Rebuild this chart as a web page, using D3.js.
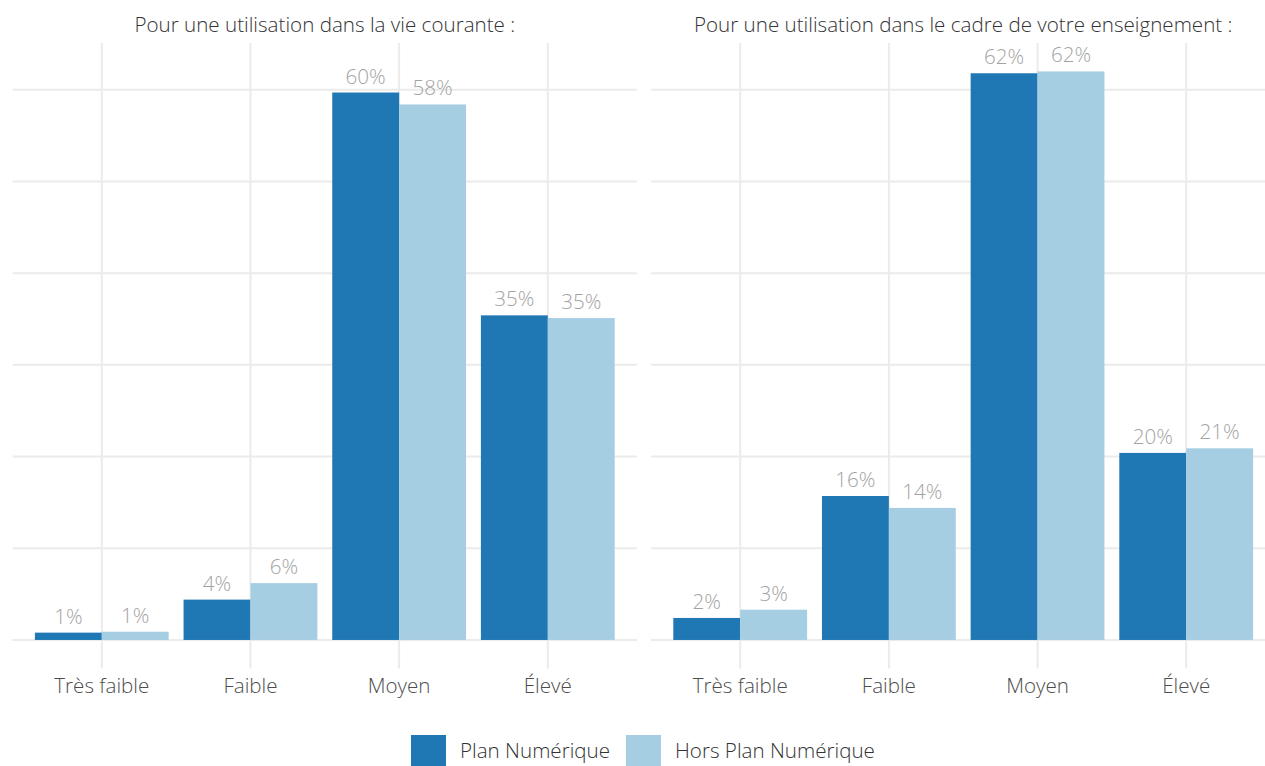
<!DOCTYPE html>
<html>
<head>
<meta charset="utf-8">
<script src="https://cdn.jsdelivr.net/npm/d3@7"></script>
<style>
  body { margin: 0; background: #fff; }
  svg { display: block; font-family: "Open Sans", sans-serif; font-weight: 300; }
</style>
</head>
<body>
<svg id="chart" width="1265" height="766"></svg>
<script>
// data (percent)
const categories = ["Très faible", "Faible", "Moyen", "Élevé"]
const series = ["Plan Numérique", "Hors Plan Numérique"]
const panelTitles = ["Pour une utilisation dans la vie courante :", "Pour une utilisation dans le cadre de votre enseignement :"]
const viePlan = [0.8, 4.4, 59.7, 35.4]
const vieHors = [0.9, 6.2, 58.4, 35.1]
const enseignementPlan = [2.4, 15.7, 61.8, 20.4]
const enseignementHors = [3.3, 14.4, 62.0, 20.9]
const gridTicks = [0, 10, 20, 30, 40, 50, 60]

const colors = ["#1f78b4", "#a6cee3"]
const fontSize = 20.6

const svg = d3.select("#chart")

const panels = [
    { title: panelTitles[0], left: 12.6, right: 637, values: [viePlan, vieHors] },
    { title: panelTitles[1], left: 651, right: 1275.4, values: [enseignementPlan, enseignementHors] }
]

const y = d3.scaleLinear()
    .domain([-3.1, 65.1])
    .range([668.4, 43])

panels.forEach(p => {
    const g = svg.append("g")

    const x = d3.scaleBand()
        .domain(categories)
        .range([p.left, p.right])
        .paddingInner(0)
        .paddingOuter(0.1)
    const step = x.step()
    const x1 = d3.scaleBand()
        .domain(series)
        .range([-0.45 * step, 0.45 * step])

    // grid
    g.selectAll("line.hgrid")
        .data(gridTicks)
        .join("line")
        .attr("class", "hgrid")
        .attr("x1", p.left).attr("x2", p.right)
        .attr("y1", d => y(d)).attr("y2", d => y(d))
        .attr("stroke", "#ebebeb")
        .attr("stroke-width", 2)
    g.selectAll("line.vgrid")
        .data(categories)
        .join("line")
        .attr("class", "vgrid")
        .attr("x1", d => x(d) + step / 2).attr("x2", d => x(d) + step / 2)
        .attr("y1", y.range()[1]).attr("y2", y.range()[0])
        .attr("stroke", "#ebebeb")
        .attr("stroke-width", 2)

    const rows = []
    series.forEach((s, si) => {
        categories.forEach((c, ci) => {
            rows.push({ cat: c, ser: s, si: si, value: p.values[si][ci] })
        })
    })

    g.selectAll("rect.bar")
        .data(rows)
        .join("rect")
        .attr("class", "bar")
        .attr("x", d => x(d.cat) + step / 2 + x1(d.ser))
        .attr("width", x1.bandwidth())
        .attr("y", d => y(d.value))
        .attr("height", d => y(0) - y(d.value))
        .attr("fill", d => colors[d.si])

    g.selectAll("text.val")
        .data(rows)
        .join("text")
        .attr("class", "val")
        .attr("x", d => x(d.cat) + step / 2 + x1(d.ser) + x1.bandwidth() / 2)
        .attr("y", d => y(d.value) - 9)
        .attr("text-anchor", "middle")
        .attr("fill", "#a3a3a3")
        .attr("font-size", fontSize)
        .text(d => Math.round(d.value) + "%")

    // x axis labels
    g.selectAll("text.cat")
        .data(categories)
        .join("text")
        .attr("class", "cat")
        .attr("x", d => x(d) + step / 2)
        .attr("y", 693)
        .attr("text-anchor", "middle")
        .attr("fill", "#4d4d4d")
        .attr("font-size", fontSize)
        .text(d => d)

    g.append("text")
        .attr("x", (p.left + p.right) / 2)
        .attr("y", 32)
        .attr("text-anchor", "middle")
        .attr("fill", "#333")
        .attr("font-size", fontSize)
        .text(p.title)
})

// legend
const legendX = [411, 626]
const legend = svg.append("g")
series.forEach((s, i) => {
    legend.append("rect")
        .attr("x", legendX[i]).attr("y", 735)
        .attr("width", 35).attr("height", 35)
        .attr("fill", colors[i])
    legend.append("text")
        .attr("x", legendX[i] + 49).attr("y", 758)
        .attr("fill", "#333")
        .attr("font-size", fontSize)
        .text(s)
})
</script>
</body>
</html>
